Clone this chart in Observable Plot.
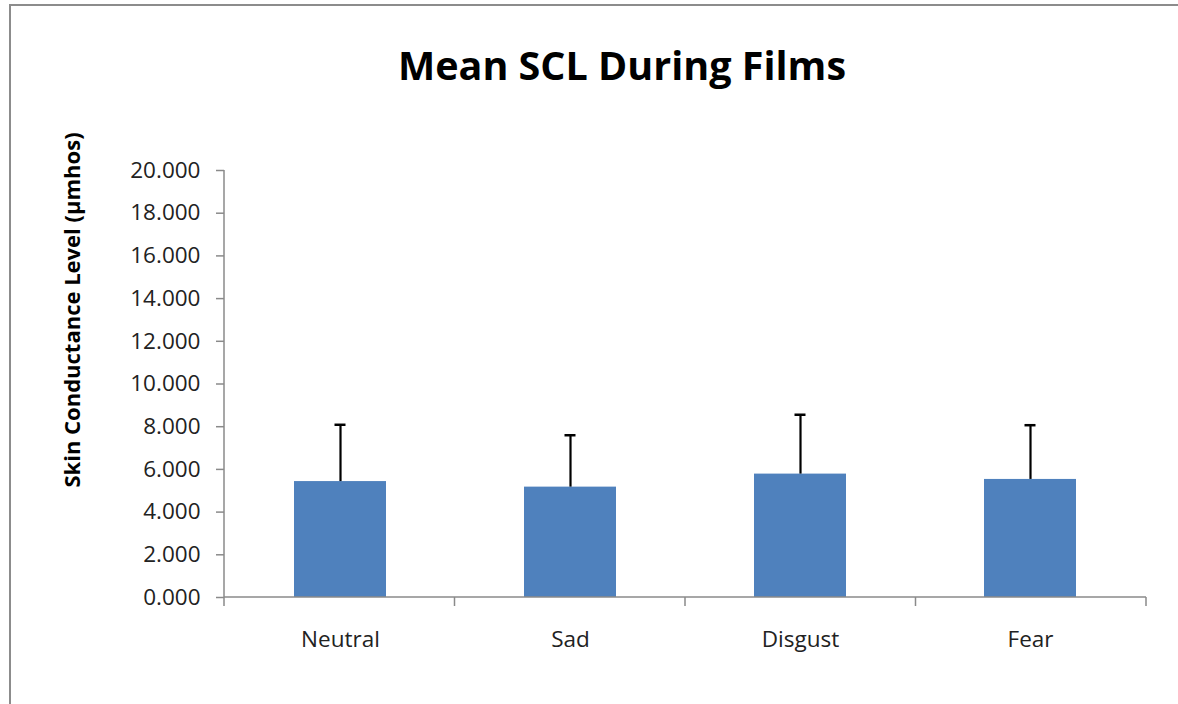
<!DOCTYPE html>
<html>
<head>
<meta charset="utf-8">
<script src="https://cdn.jsdelivr.net/npm/d3@7"></script>
<script src="https://cdn.jsdelivr.net/npm/@observablehq/plot@0.6"></script>
<style>
  html, body { margin: 0; padding: 0; background: #fff; width: 1178px; height: 704px; overflow: hidden; }
  #frame { position: absolute; left: 9px; top: 4px; width: 1300px; height: 800px;
           border-top: 2px solid #8c8c8c; border-left: 2px solid #8c8c8c; box-sizing: border-box; }
  #title { position: absolute; left: 0; width: 1244px; top: 42px; text-align: center;
           font-family: "Open Sans", sans-serif; font-weight: bold; font-size: 39.5px; color: #000; line-height: 1.2; }
  #chart { position: absolute; left: 0; top: 100px; }
</style>
</head>
<body>
<div id="frame"></div>
<div id="title">Mean SCL During Films</div>
<div id="chart"></div>
<script>
const categories = ["Neutral", "Sad", "Disgust", "Fear"];
const means = [5.43, 5.17, 5.78, 5.53];
const errors = [2.66, 2.43, 2.78, 2.54];
const yTicks = [0, 2, 4, 6, 8, 10, 12, 14, 16, 18, 20];
const yLabel = "Skin Conductance Level (µmhos)";

const data = categories.map((c, i) => ({cat: c, mean: means[i], top: means[i] + errors[i]}));

const axisLines = (index, scales, values, dimensions) => {
  const {width, height, marginLeft, marginRight, marginTop, marginBottom} = dimensions;
  const y0 = scales.y(0);
  const g = d3.create("svg:g").attr("stroke", "#8a8a8a").attr("stroke-width", 1.5).attr("fill", "none");
  g.append("line").attr("x1", marginLeft).attr("x2", marginLeft).attr("y1", scales.y(20)).attr("y2", y0);
  g.append("line").attr("x1", marginLeft).attr("x2", width - marginRight).attr("y1", y0).attr("y2", y0);
  const n = categories.length;
  const step = (width - marginLeft - marginRight) / n;
  for (let i = 0; i <= n; i++) {
    const x = marginLeft + i * step;
    g.append("line").attr("x1", x).attr("x2", x).attr("y1", y0).attr("y2", y0 + 9);
  }
  return g.node();
};

const chart = Plot.plot({
  width: 1178,
  height: 560,
  marginTop: 70,
  marginBottom: 63,
  marginLeft: 224,
  marginRight: 32,
  style: {fontFamily: "Open Sans, sans-serif", background: "transparent"},
  x: {domain: categories, paddingInner: 0.6, paddingOuter: 0.3},
  y: {domain: [0, 20]},
  marks: [
    Plot.barY(data, {x: "cat", y: "mean", fill: "#4f81bd"}),
    Plot.ruleX(data, {x: "cat", y1: "mean", y2: "top", stroke: "#000", strokeWidth: 2.2}),
    Plot.tickY(data, {x: "cat", y: "top", stroke: "#000", strokeWidth: 2.5, insetLeft: 40.5, insetRight: 40.5}),
    axisLines,
    Plot.axisY({ticks: yTicks, tickFormat: d3.format(".3f"), tickSize: 8, tickPadding: 16,
                stroke: "#8a8a8a", strokeWidth: 1.5, fontSize: 22.5, fill: "#222", label: null}),
    Plot.axisX({tickSize: 0, tickPadding: 34, fontSize: 22.5, fill: "#222", label: null}),
    Plot.text([yLabel], {text: d => d, frameAnchor: "left", rotate: -90, dx: -152, dy: -74,
                         fontSize: 22, fontWeight: "bold", fill: "#000", textAnchor: "middle"})
  ]
});
document.getElementById("chart").appendChild(chart);
</script>
</body>
</html>
